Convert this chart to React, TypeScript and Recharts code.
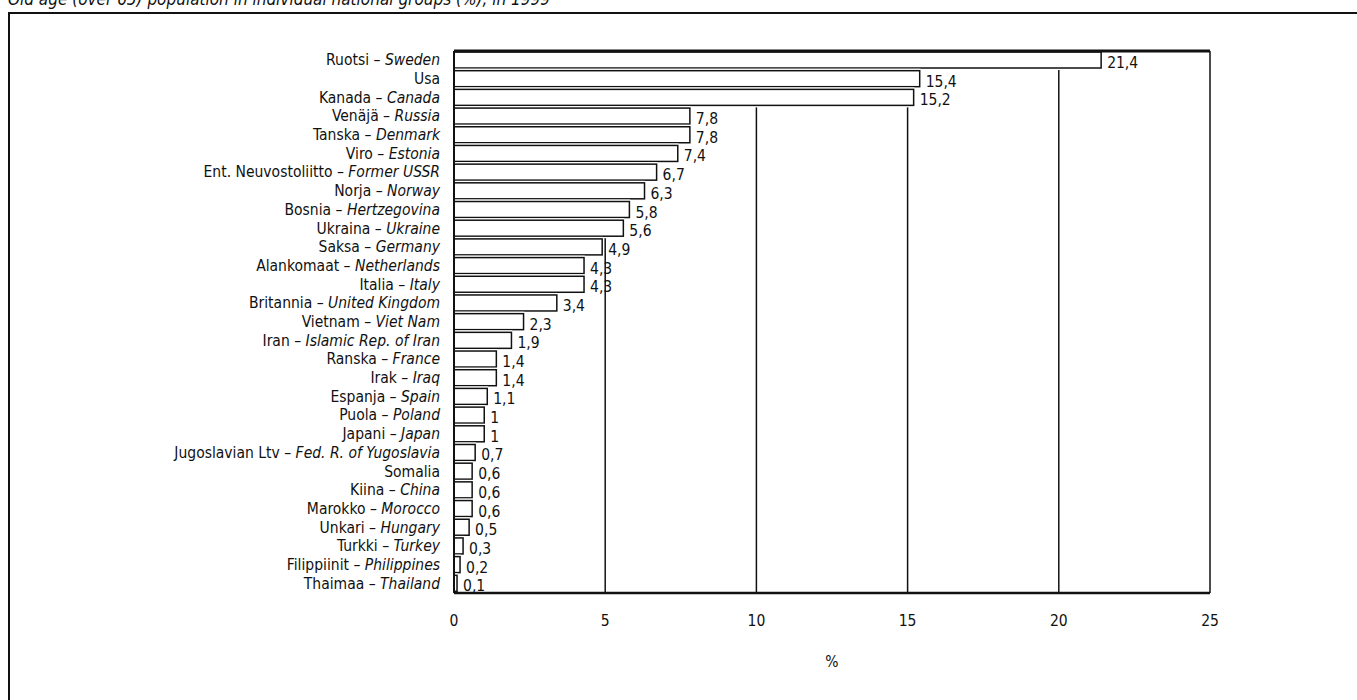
import React from 'react';
import { BarChart, Bar, XAxis, YAxis, CartesianGrid, LabelList } from 'recharts';

const finnishNames = [
  'Ruotsi', 'Usa', 'Kanada', 'Venäjä', 'Tanska', 'Viro', 'Ent. Neuvostoliitto', 'Norja',
  'Bosnia', 'Ukraina', 'Saksa', 'Alankomaat', 'Italia', 'Britannia', 'Vietnam', 'Iran',
  'Ranska', 'Irak', 'Espanja', 'Puola', 'Japani', 'Jugoslavian Ltv', 'Somalia', 'Kiina',
  'Marokko', 'Unkari', 'Turkki', 'Filippiinit', 'Thaimaa',
];
const englishNames = [
  'Sweden', '', 'Canada', 'Russia', 'Denmark', 'Estonia', 'Former USSR', 'Norway',
  'Hertzegovina', 'Ukraine', 'Germany', 'Netherlands', 'Italy', 'United Kingdom', 'Viet Nam', 'Islamic Rep. of Iran',
  'France', 'Iraq', 'Spain', 'Poland', 'Japan', 'Fed. R. of Yugoslavia', '', 'China',
  'Morocco', 'Hungary', 'Turkey', 'Philippines', 'Thailand',
];
const values = [
  21.4, 15.4, 15.2, 7.8, 7.8, 7.4, 6.7, 6.3, 5.8, 5.6, 4.9, 4.3, 4.3, 3.4, 2.3, 1.9,
  1.4, 1.4, 1.1, 1, 1, 0.7, 0.6, 0.6, 0.6, 0.5, 0.3, 0.2, 0.1,
];
const xTicks = [0, 5, 10, 15, 20, 25];
const titleText = 'Old age (over 65) population in individual national groups (%), in 1999';
const axisTitle = '%';

const data = finnishNames.map((fi, i) => ({ key: String(i), fi, en: englishNames[i], value: values[i] }));

const FONT = '"DejaVu Sans Condensed", "Liberation Sans", sans-serif';

const CategoryTick = (props: any) => {
  const { x, y, payload } = props;
  const row = data[Number(payload.value)];
  if (!row) return null;
  return (
    <text x={x} y={y} dy={5} textAnchor="end" fontFamily={FONT} fontSize={15.5} fill="#111">
      <tspan>{row.fi}</tspan>
      {row.en ? <tspan>{' – '}</tspan> : null}
      {row.en ? <tspan fontStyle="italic">{row.en}</tspan> : null}
    </text>
  );
};

const ValueLabel = (props: any) => {
  const { x, y, width, height, value } = props;
  return (
    <text x={x + width + 6} y={y + height / 2 + 8} textAnchor="start" fontFamily={FONT} fontSize={15.5} fill="#111">
      {String(value).replace('.', ',')}
    </text>
  );
};

const BarShape = (props: any) => {
  const { x, y, width, height } = props;
  return (
    <g>
      <rect x={x} y={y - 2} width={width + 0.75} height={height + 4} fill="#fff" stroke="none" />
      <rect x={x} y={y} width={width} height={height} fill="#fff" stroke="#111" strokeWidth={1.5} />
    </g>
  );
};

export default function App() {
  return (
    <div style={{ position: 'absolute', left: 0, top: 0, width: 1357, height: 700, overflow: 'hidden', background: '#fff' }}>
      <div style={{ position: 'absolute', left: 8, top: -11, fontFamily: FONT, fontStyle: 'italic', fontSize: 17, color: '#111', whiteSpace: 'nowrap' }}>
        {titleText}
      </div>
      <div style={{ position: 'absolute', left: 8, top: 12, width: 1420, height: 760, border: '2px solid #111', boxSizing: 'border-box' }} />
      <div style={{ position: 'absolute', left: 0, top: 0 }}>
        <BarChart
          width={1357}
          height={700}
          data={data}
          layout="vertical"
          margin={{ top: 49, right: 147, bottom: 27, left: 0 }}
          barSize={16}
        >
          <CartesianGrid horizontal={false} vertical={true} stroke="#111" strokeWidth={1.5} strokeOpacity={1} />
          <XAxis
            type="number"
            dataKey="value"
            domain={[0, 25]}
            ticks={xTicks}
            tickLine={false}
            axisLine={{ stroke: '#111', strokeWidth: 2.5 }}
            tick={{ fontFamily: FONT, fontSize: 15.5, fill: '#111' }}
            tickMargin={16}
            height={80}
            label={{ value: axisTitle, position: 'insideBottom', offset: 6, fontFamily: FONT, fontSize: 15.5, fill: '#111' }}
          />
          <XAxis
            xAxisId="top"
            orientation="top"
            type="number"
            domain={[0, 25]}
            ticks={xTicks}
            tick={false}
            tickLine={false}
            axisLine={{ stroke: '#111', strokeWidth: 3 }}
            height={2}
          />
          <YAxis
            type="category"
            dataKey="key"
            width={454}
            tickLine={false}
            axisLine={{ stroke: '#111', strokeWidth: 2 }}
            tick={<CategoryTick />}
            tickMargin={8}
            interval={0}
          />
          <Bar dataKey="value" fill="#fff" stroke="#111" strokeWidth={1.5} shape={<BarShape />} isAnimationActive={false}>
            <LabelList dataKey="value" content={<ValueLabel />} />
          </Bar>
        </BarChart>
      </div>
    </div>
  );
}
